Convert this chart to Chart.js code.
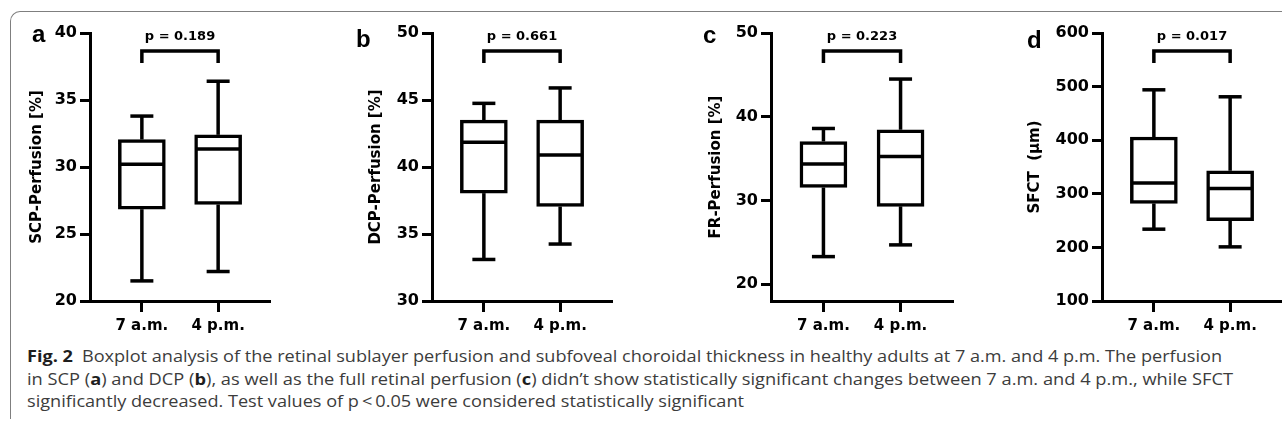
<!DOCTYPE html>
<html>
<head>
<meta charset="utf-8">
<script src="https://cdn.jsdelivr.net/npm/chart.js@4.4.1/dist/chart.umd.min.js"></script>
<style>
	body { margin: 0; background: #fff; width: 1282px; height: 428px; overflow: hidden; position: relative; }
	#frame { position: absolute; left: 10px; top: 11px; width: 1300px; height: 407px; border-top: 1.5px solid #7f7f7f; border-left: 1.5px solid #7f7f7f; border-top-left-radius: 10px; }
	canvas { position: absolute; top: 12px; }
	.cap { position: absolute; left: 27px; white-space: nowrap; font-family: "Open Sans", sans-serif; font-size: 16px; line-height: 22px; color: #3c3c3c; transform-origin: 0 50%; }
	.cap b { color: #1e1e1e; }
</style>
</head>
<body>
<div id="frame"></div>
<canvas id="panel-a" width="290" height="330" style="left:10px"></canvas>
<canvas id="panel-b" width="300" height="330" style="left:330px"></canvas>
<canvas id="panel-c" width="320" height="330" style="left:650px"></canvas>
<canvas id="panel-d" width="292" height="330" style="left:990px"></canvas>

<div class="cap" id="cap1" style="top:345px"><b>Fig. 2</b>&ensp;Boxplot analysis of the retinal sublayer perfusion and subfoveal choroidal thickness in healthy adults at 7 a.m. and 4 p.m. The perfusion</div>
<div class="cap" id="cap2" style="top:368px">in SCP (<b>a</b>) and DCP (<b>b</b>), as well as the full retinal perfusion (<b>c</b>) didn’t show statistically significant changes between 7 a.m. and 4 p.m., while SFCT</div>
<div class="cap" id="cap3" style="top:390px">significantly decreased. Test values of p&thinsp;&lt;&thinsp;0.05 were considered statistically significant</div>

<script>
// categories
var groups = ['7 a.m.', '4 p.m.'];

// a - SCP perfusion [%]
var scpMin = [21.5, 22.2];
var scpQ1 = [26.85, 27.2];
var scpMed = [30.2, 31.35];
var scpQ3 = [32.05, 32.4];
var scpMax = [33.8, 36.4];
var scpTicks = [20, 25, 30, 35, 40];

// b - DCP perfusion [%]
var dcpMin = [33.1, 34.25];
var dcpQ1 = [38.05, 37.05];
var dcpMed = [41.85, 40.9];
var dcpQ3 = [43.5, 43.5];
var dcpMax = [44.75, 45.9];
var dcpTicks = [30, 35, 40, 45, 50];

// c - full retina perfusion [%]
var frMin = [23.3, 24.7];
var frQ1 = [31.55, 29.3];
var frMed = [34.35, 35.25];
var frQ3 = [37.05, 38.45];
var frMax = [38.6, 44.5];
var frTicks = [20, 30, 40, 50];

// d - SFCT (µm)
var sfctMin = [234, 201];
var sfctQ1 = [282, 250];
var sfctMed = [320, 310];
var sfctQ3 = [406, 343];
var sfctMax = [494, 481];
var sfctTicks = [100, 200, 300, 400, 500, 600];

var pValues = ['p = 0.189', 'p = 0.661', 'p = 0.223', 'p = 0.017'];
var panelLetters = ['a', 'b', 'c', 'd'];
var yTitles = ['SCP-Perfusion [%]', 'DCP-Perfusion [%]', 'FR-Perfusion [%]', 'SFCT  (\u03bcm)'];

var boldFont = 'DejaVu Sans';

// whiskers, medians, bracket, p value and panel letter
var boxExtras = {
	id: 'boxExtras',
	afterDatasetsDraw: function(chart, args, o) {
		var ctx = chart.ctx;
		var xs = chart.scales.x;
		var ys = chart.scales.y;

		ctx.save();
		ctx.strokeStyle = '#000';
		ctx.lineWidth = 3.5;
		ctx.lineCap = 'butt';

		function seg(x1, y1, x2, y2) {
			ctx.beginPath();
			ctx.moveTo(x1, y1);
			ctx.lineTo(x2, y2);
			ctx.stroke();
		}

		var centers = [];
		for (var i = 0; i < o.med.length; i++) {
			var cx = xs.getPixelForValue(i + 1);
			centers.push(cx);
			var yMin = ys.getPixelForValue(o.min[i]);
			var yQ1 = ys.getPixelForValue(o.q1[i]);
			var yMed = ys.getPixelForValue(o.med[i]);
			var yQ3 = ys.getPixelForValue(o.q3[i]);
			var yMax = ys.getPixelForValue(o.max[i]);

			seg(cx, yQ3, cx, yMax);
			seg(cx, yQ1, cx, yMin);
			seg(cx - 11.5, yMax, cx + 11.5, yMax);
			seg(cx - 11.5, yMin, cx + 11.5, yMin);
			seg(cx - 23, yMed, cx + 23, yMed);
		}

		// significance bracket
		ctx.lineJoin = 'miter';
		ctx.beginPath();
		ctx.moveTo(centers[0], 51);
		ctx.lineTo(centers[0], 39);
		ctx.lineTo(centers[1], 39);
		ctx.lineTo(centers[1], 51);
		ctx.stroke();

		ctx.fillStyle = '#000';
		ctx.textAlign = 'center';
		ctx.textBaseline = 'alphabetic';
		ctx.font = 'bold 13px "' + boldFont + '"';
		ctx.fillText(o.p, (centers[0] + centers[1]) / 2, 28);

		ctx.textAlign = 'left';
		ctx.font = 'bold 24px "Liberation Sans"';
		ctx.fillText(o.letter, o.letterX, o.letterY);

		ctx.restore();
	}
};

function makePanel(canvasId, idx, q1, med, q3, mn, mx, ticks, yMinVal, yMaxVal, yWidth, titlePad, padRight, letterX, letterY) {
	var ctx = document.getElementById(canvasId).getContext('2d');
	var boxes = groups.map(function(g, i) {
		return { x: i + 1, y: [q1[i], q3[i]] };
	});

	return new Chart(ctx, {
		type: 'bar',
		data: {
			datasets: [{
				data: boxes,
				backgroundColor: '#fff',
				borderColor: '#000',
				borderWidth: 3.5,
				borderSkipped: false,
				barThickness: 47
			}]
		},
		options: {
			responsive: false,
			animation: false,
			devicePixelRatio: 1,
			layout: { padding: { left: 0, top: 21, right: padRight, bottom: 0 } },
			plugins: {
				legend: { display: false },
				tooltip: { enabled: false },
				boxExtras: {
					min: mn, q1: q1, med: med, q3: q3, max: mx,
					p: pValues[idx], letter: panelLetters[idx],
					letterX: letterX, letterY: letterY
				}
			},
			scales: {
				x: {
					type: 'linear',
					min: 0.32,
					max: 2.68,
					offset: false,
					bounds: 'data',
					afterBuildTicks: function(s) {
						s.ticks = groups.map(function(g, i) { return { value: i + 1 }; });
					},
					afterFit: function(s) { s.height = 41; },
					grid: { offset: false, drawOnChartArea: false, tickLength: 11, tickWidth: 3, tickColor: '#000' },
					border: { display: true, color: '#000', width: 3 },
					ticks: {
						color: '#000',
						padding: 5,
						autoSkip: false,
						maxRotation: 0,
						font: { family: boldFont, weight: 'bold', size: 15 },
						callback: function(v) { return groups[v - 1]; }
					}
				},
				y: {
					min: yMinVal,
					max: yMaxVal,
					afterBuildTicks: function(s) {
						s.ticks = ticks.map(function(v) { return { value: v }; });
					},
					afterFit: function(s) { s.width = yWidth; },
					grid: { drawOnChartArea: false, tickLength: 10, tickWidth: 3, tickColor: '#000' },
					border: { display: true, color: '#000', width: 3 },
					ticks: {
						color: '#000',
						padding: 3,
						font: { family: boldFont, weight: 'bold', size: 16 }
					},
					title: {
						display: true,
						text: yTitles[idx],
						color: '#000',
						padding: { top: titlePad, bottom: 0 },
						font: { family: boldFont, weight: 'bold', size: 15 }
					}
				}
			}
		},
		plugins: [boxExtras]
	});
}

makePanel('panel-a', 0, scpQ1, scpMed, scpQ3, scpMin, scpMax, scpTicks, 20, 40, 80, 18, 30, 22, 30);
makePanel('panel-b', 1, dcpQ1, dcpMed, dcpQ3, dcpMin, dcpMax, dcpTicks, 30, 50, 102, 37, 18, 26, 35);
makePanel('panel-c', 2, frQ1, frMed, frQ3, frMin, frMax, frTicks, 18, 50, 121, 57, 17, 53, 31);
makePanel('panel-d', 3, sfctQ1, sfctMed, sfctQ3, sfctMin, sfctMax, sfctTicks, 100, 600, 112, 36, 0, 37, 36);

// squeeze the caption to the width of the printed lines
var capWidths = [1195, 1206, 717];
['cap1', 'cap2', 'cap3'].forEach(function(id, i) {
	var el = document.getElementById(id);
	var w = el.getBoundingClientRect().width;
	el.style.transform = 'scaleX(' + (capWidths[i] / w) + ')';
});
</script>
</body>
</html>
